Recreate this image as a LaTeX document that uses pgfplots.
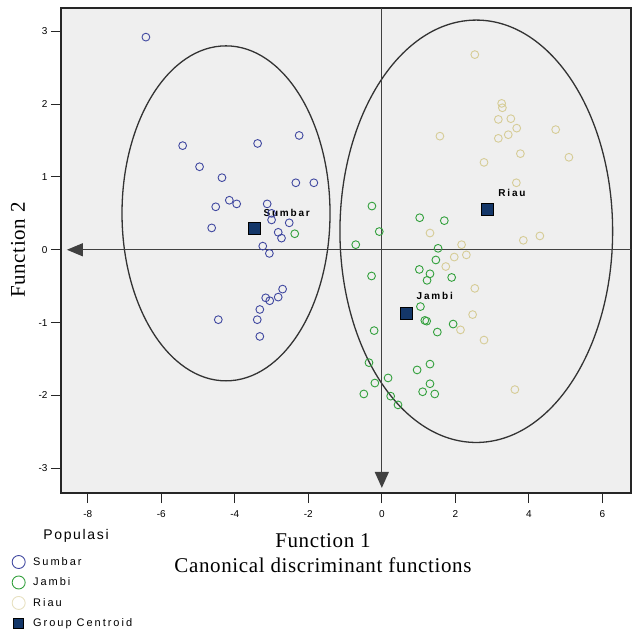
\documentclass[border=0pt]{standalone}
\usepackage{fontspec}
\setmainfont{Liberation Serif}
\setsansfont{Liberation Sans}
\newfontfamily\labfont[LetterSpace=3]{Liberation Serif}
\newfontfamily\legfont[LetterSpace=18]{Liberation Sans}
\newfontfamily\popfont[LetterSpace=12]{Liberation Sans}
\usepackage{pgfplots}
\pgfplotsset{compat=1.18}
\usetikzlibrary{arrows.meta}
\definecolor{sumbar}{RGB}{64,72,160}
\definecolor{jambi}{RGB}{50,160,60}
\definecolor{riau}{RGB}{214,204,150}
\definecolor{centroid}{RGB}{20,55,105}
\definecolor{bg}{RGB}{239,239,239}
\begin{document}
\begin{tikzpicture}[x=1pt,y=1pt]
\path[use as bounding box] (0,0) rectangle (632,634);
\begin{axis}[
  at={(61pt,141pt)}, anchor=south west,
  width=570pt, height=485pt, scale only axis,
  xmin=-8.73, xmax=6.78, ymin=-3.34, ymax=3.32,
  axis background/.style={fill=bg},
  axis line style={black!85, line width=1.3pt},
  tick pos=left, tick align=outside,
  major tick length=10pt,
  every tick/.style={black!85, line width=1pt},
  xtick={-8,-6,-4,-2,0,2,4,6}, xticklabels={-8,-6,-4,-2,0,2,4,6},
  ytick={-3,-2,-1,0,1,2,3}, yticklabels={-3,-2,-1,0,1,2,3},
  tick label style={font=\sffamily\fontsize{10}{12}\selectfont},
  xticklabel style={yshift=-4pt},
  legend style={at={(-0.086,-0.128)}, anchor=north west, draw=none, fill=none,
    inner sep=0pt, font=\legfont\fontsize{11}{13}\selectfont, row sep=7pt, column sep=6pt},
  legend cell align=left,
]
\draw[line width=1.3pt, black!80] (axis cs:-4.24,0.50) ellipse [x radius=2.83, y radius=2.30];
\draw[line width=1.3pt, black!80] (axis cs:2.57,0.254) ellipse [x radius=3.71, y radius=2.90];
\draw[line width=1.3pt, black!75, -{Triangle[length=16pt, width=13pt]}] (axis cs:6.78,0) -- (axis cs:-8.57,0);
\draw[line width=1.3pt, black!75, -{Triangle[length=16pt, width=14pt]}] (axis cs:0,3.32) -- (axis cs:0,-3.27);

\addplot[forget plot, only marks, mark=o, mark size=3.9pt, sumbar, mark options={line width=0.9pt}] coordinates {
(-6.42,2.92) (-5.42,1.43) (-3.38,1.46) (-2.25,1.57) (-4.96,1.14) (-4.35,0.99)
(-2.34,0.92) (-1.85,0.92) (-4.52,0.59) (-4.15,0.68) (-3.95,0.63) (-3.12,0.63)
(-3.00,0.50) (-3.00,0.41) (-4.63,0.30) (-2.52,0.37) (-2.82,0.24) (-2.73,0.16)
(-3.24,0.05) (-3.06,-0.05) (-2.70,-0.54) (-2.82,-0.65) (-3.16,-0.66) (-3.05,-0.70)
(-3.32,-0.82) (-3.39,-0.96) (-4.45,-0.96) (-3.32,-1.19)
};
\addplot[forget plot, only marks, mark=o, mark size=3.9pt, jambi, mark options={line width=0.9pt}] coordinates {
(-2.37,0.22) (-0.27,0.60) (-0.07,0.25) (-0.71,0.07) (-0.28,-0.36) (1.03,0.44)
(1.70,0.40) (1.53,0.02) (1.47,-0.14) (1.02,-0.27) (1.31,-0.33) (1.23,-0.42)
(1.90,-0.38) (1.05,-0.78) (1.22,-0.98) (1.17,-0.97) (1.51,-1.13) (1.94,-1.02)
(-0.21,-1.11) (-0.35,-1.55) (0.17,-1.76) (-0.19,-1.83) (-0.49,-1.98) (0.24,-2.01)
(0.44,-2.13) (1.31,-1.57) (0.96,-1.65) (1.31,-1.84) (1.11,-1.95) (1.44,-1.98)
};
\addplot[forget plot, only marks, mark=o, mark size=3.9pt, riau, mark options={line width=0.9pt}] coordinates {
(2.53,2.68) (3.26,2.01) (3.28,1.95) (3.17,1.79) (3.51,1.80) (3.67,1.67)
(3.44,1.58) (3.17,1.53) (1.58,1.56) (4.73,1.65) (3.77,1.32) (5.09,1.27)
(2.78,1.20) (3.66,0.92) (3.85,0.13) (4.30,0.19) (1.31,0.23) (2.17,0.07)
(2.30,-0.07) (1.97,-0.10) (1.74,-0.23) (2.53,-0.53) (2.47,-0.89) (2.14,-1.10)
(2.78,-1.24) (3.62,-1.92)
};
\addplot[forget plot, only marks, mark=square*, mark size=6pt, mark options={fill=centroid, draw=black, line width=0.8pt}] coordinates {
(-3.48,0.29) (2.86,0.56) (0.68,-0.87)
};
\node[font=\legfont\bfseries\fontsize{10}{12}\selectfont] at (axis cs:-2.59,0.51) {Sumbar};
\node[font=\legfont\bfseries\fontsize{10}{12}\selectfont] at (axis cs:3.54,0.78) {Riau};
\node[font=\legfont\bfseries\fontsize{10}{12}\selectfont] at (axis cs:1.44,-0.63) {Jambi};

\addlegendimage{only marks, mark=o, mark size=6.5pt, sumbar, mark options={line width=0.9pt}}
\addlegendentry{Sumbar}
\addlegendimage{only marks, mark=o, mark size=6.5pt, jambi, mark options={line width=0.9pt}}
\addlegendentry{Jambi}
\addlegendimage{only marks, mark=o, mark size=6.5pt, riau!60, mark options={line width=0.9pt}}
\addlegendentry{Riau}
\addlegendimage{only marks, mark=square*, mark size=5pt, mark options={fill=centroid, draw=black, line width=0.6pt}}
\addlegendentry{Group Centroid}
\end{axis}
\node[rotate=90, font=\labfont\fontsize{21}{24}\selectfont] at (18,384) {Function 2};
\node[font=\labfont\fontsize{21}{24}\selectfont] at (323,93) {Function 1};
\node[font=\labfont\fontsize{21}{24}\selectfont] at (323,69) {Canonical discriminant functions};
\node[font=\popfont\fontsize{14}{16}\selectfont] at (76,98) {Populasi};
\end{tikzpicture}
\end{document}
